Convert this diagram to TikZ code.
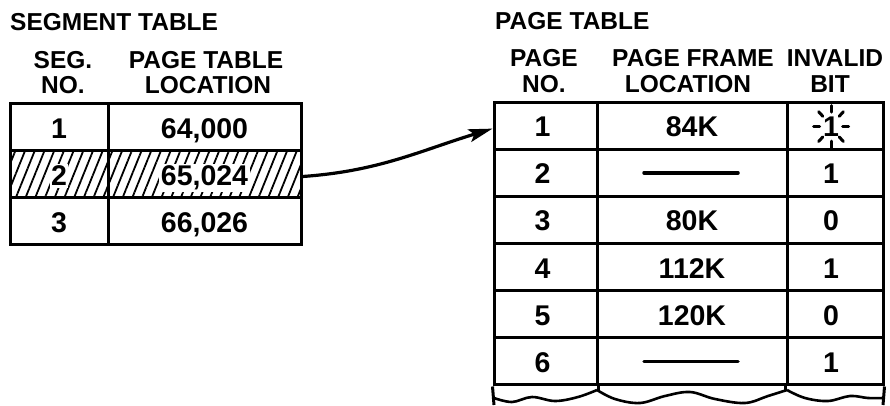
\documentclass[tikz,border=0pt]{standalone}
\usepackage{fontspec}
\setmainfont{Liberation Sans}
\usetikzlibrary{patterns.meta,arrows.meta,calc}
\begin{document}
\begin{tikzpicture}[x=1pt,y=-1pt,
  cell/.style={draw,line width=3pt,inner sep=0pt,minimum height=47pt},
  pcell/.style={draw,line width=3pt,inner sep=0pt,minimum height=47.17pt},
  hatch/.style={pattern={Lines[angle=68,distance=9pt,line width=1.8pt]}},
  val/.style={font=\fontsize{28.5}{30}\selectfont\bfseries,inner sep=0pt,anchor=base},
  haloval/.style={val,fill=white,inner xsep=1.5pt,inner ysep=2pt},
  head/.style={font=\fontsize{24.5}{26}\selectfont\bfseries,inner sep=0pt,anchor=base},
  title/.style={font=\fontsize{24.5}{26}\selectfont\bfseries,inner sep=0pt,anchor=base west},
  bar/.style={line width=3.5pt,line cap=round},
  spark/.style={line width=3pt,line cap=round},
  wave/.style={line width=2.6pt}
]
\useasboundingbox (0,0) rectangle (890,405);

% ---------- titles and headers ----------
\node[title] (segtitle) at (10,30.5) {SEGMENT TABLE};
\node[title] (pgtitle) at (495,29.5) {PAGE TABLE};

\node[head] (hseg1) at (63,68.5) {SEG.};
\node[head] (hseg2) at (63,93.5) {NO.};
\node[head] (hptl1) at (206,68) {PAGE TABLE};
\node[head] (hptl2) at (208,93) {LOCATION};

\node[head] (hpn1) at (544,66) {PAGE};
\node[head] (hpn2) at (544,92) {NO.};
\node[head] (hpf1) at (693,66) {PAGE FRAME};
\node[head] (hpf2) at (688,92) {LOCATION};
\node[head] (hib1) at (835,66) {INVALID};
\node[head] (hib2) at (830,92) {BIT};

% ---------- segment table ----------
\node[cell,minimum width=98pt] (s1n) at (59,126.5) {};
\node[cell,minimum width=193pt] (s1l) at (204.5,126.5) {};
\node[cell,hatch,minimum width=98pt] (s2n) at (59,173.5) {};
\node[cell,hatch,minimum width=193pt] (s2l) at (204.5,173.5) {};
\node[cell,minimum width=98pt] (s3n) at (59,220.5) {};
\node[cell,minimum width=193pt] (s3l) at (204.5,220.5) {};

\node[val] (ts1n) at ([yshift=-12pt]s1n.center) {1};
\node[val] (ts1l) at ([yshift=-12pt]s1l.center) {64,000};
\node[haloval] (ts2n) at ([yshift=-12pt]s2n.center) {2};
\node[haloval] (ts2l) at ([yshift=-12pt]s2l.center) {65,024};
\node[val] (ts3n) at ([yshift=-12pt]s3n.center) {3};
\node[val] (ts3l) at ([yshift=-12pt]s3l.center) {66,026};

% ---------- page table ----------
\foreach \r/\y in {1/125.6,2/172.8,3/219.9,4/267.1,5/314.3,6/361.4}{
  \node[pcell,minimum width=103pt] (p\r n) at (545.5,\y) {};
  \node[pcell,minimum width=190pt] (p\r l) at (692,\y) {};
  \node[pcell,minimum width=96pt] (p\r b) at (835,\y) {};
}
\foreach \r/\l/\b in {1/84K/1,3/80K/0,4/112K/1,5/120K/0}{
  \node[val] (tp\r n) at ([xshift=-3pt,yshift=-11pt]p\r n.center) {\r};
  \node[val] (tp\r l) at ([yshift=-11pt]p\r l.center) {\l};
  \node[val] (tp\r b) at ([xshift=-4pt,yshift=-11pt]p\r b.center) {\b};
}
\foreach \r in {2,6}{
  \node[val] (tp\r n) at ([xshift=-3pt,yshift=-11pt]p\r n.center) {\r};
  \draw[bar] ([xshift=-48pt]p\r l.center) -- ([xshift=46pt]p\r l.center);
  \node[val] (tp\r b) at ([xshift=-4pt,yshift=-11pt]p\r b.center) {1};
}

% sparkle round the invalid bit of page 1
\coordinate (sparkc) at ([xshift=-4pt,yshift=-1pt]p1b.center);
\foreach \a in {0,45,...,315}{
  \draw[spark] ($(sparkc)+(\a:11.5 and 14.5)$) -- ($(sparkc)+(\a:17.5 and 21)$);
}

% torn-off bottom of the page table
\coordinate (bl) at (494,405);
\coordinate (br) at (883,405);
\draw[line width=3pt] (p6n.south west) -- (bl);
\draw[line width=3pt] (p6b.south east) -- (br);
\draw[line width=3pt] (p6n.south east) -- ++(0,5);
\draw[line width=3pt] (p6b.south west) -- ++(0,5);
\draw[wave] plot[smooth,tension=0.6] coordinates {(494,398) (512,402) (532,397) (555,401) (578,397) (597,390)};
\draw[wave] plot[smooth,tension=0.6] coordinates {(597,390) (615,399) (640,403) (665,396) (690,392) (715,399) (745,403) (768,396) (787,390)};
\draw[wave] plot[smooth,tension=0.6] coordinates {(787,390) (805,398) (828,401) (850,396) (868,398) (883,398)};

% ---------- connector ----------
\draw[line width=3.2pt,-{Stealth[length=24pt,width=13pt,inset=5pt]}]
  ([yshift=-3pt]s2l.east) to[out=4,in=197] ([yshift=-3pt]p1n.west);
\end{tikzpicture}
\end{document}
